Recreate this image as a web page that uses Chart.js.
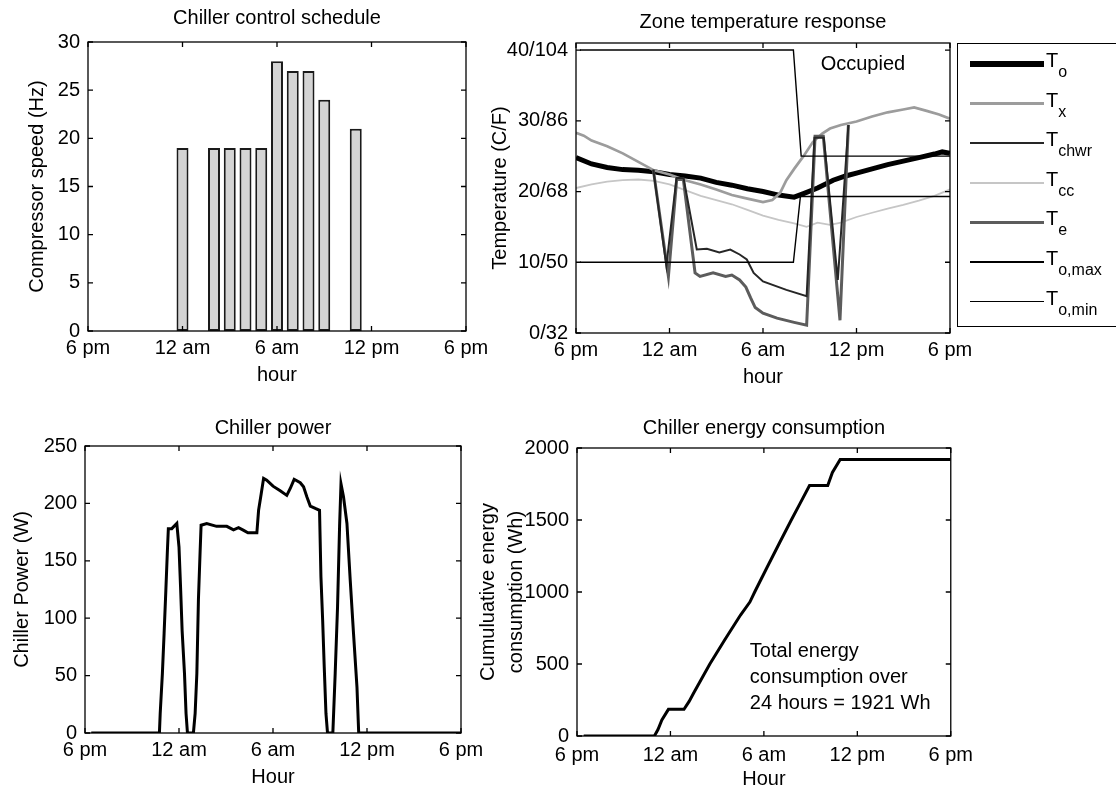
<!DOCTYPE html>
<html>
<head>
<meta charset="utf-8">
<script src="https://cdn.jsdelivr.net/npm/chart.js@4/dist/chart.umd.min.js"></script>
<style>
  html, body { margin: 0; padding: 0; background: #fff; }
  #page { position: relative; width: 1116px; height: 791px; overflow: hidden; background: #fff;
          font-family: "Liberation Sans", Arial, sans-serif; color: #000; }
  .panel { position: absolute; }
  #legend { position: absolute; left: 957px; top: 43px; width: 180px; height: 284px;
            border: 1.5px solid #000; box-sizing: border-box; }
  .swatch { position: absolute; left: 970px; width: 74px; }
  .lab { position: absolute; left: 1046px; font-size: 20px; line-height: 20px; white-space: nowrap; }
  .lab sub { font-size: 16px; vertical-align: -10px; line-height: 0; }
</style>
</head>
<body>
<div id="page">
  <div class="panel" style="left:0;top:0;width:500px;height:395px"><canvas id="schedule"></canvas></div>
  <div class="panel" style="left:480px;top:0;width:500px;height:395px"><canvas id="zone"></canvas></div>
  <div class="panel" style="left:0;top:395px;width:500px;height:396px"><canvas id="power"></canvas></div>
  <div class="panel" style="left:470px;top:395px;width:510px;height:396px"><canvas id="energy"></canvas></div>
  <div id="legend"></div>
</div>
<script>
const hourTicks = ['6 pm', '12 am', '6 am', '12 pm', '6 pm'];

// chiller control schedule (hours after 6 pm)
const barHours = [6, 8, 9, 10, 11, 12, 13, 14, 15, 17];
const barSpeeds = [19, 19, 19, 19, 19, 28, 27, 27, 24, 21];

// zone temperature response
const tempTicks = ['0/32', '10/50', '20/68', '30/86', '40/104'];
const toHours = [0, 1, 2, 3, 4, 5, 6, 7, 8, 9, 10, 11, 12, 13, 14, 14.6, 15.5, 16.5, 17.3, 18, 19, 20, 21, 22, 23, 23.5, 24];
const toVals = [24.8, 23.9, 23.4, 23.1, 23.0, 22.8, 22.4, 22.2, 21.9, 21.3, 20.9, 20.4, 20.0, 19.5, 19.2, 19.7, 20.5, 21.6, 22.2, 22.6, 23.2, 23.8, 24.3, 24.8, 25.3, 25.6, 25.4];
const txHours = [0, 0.5, 1, 2, 3, 4, 5, 6, 7, 8, 9, 10, 11, 12, 12.6, 13.1, 13.5, 14.0, 14.6, 15.2, 15.8, 16.3, 17, 18, 19, 20, 21, 21.7, 22.5, 23.3, 24];
const txVals = [28.3, 27.9, 27.2, 26.4, 25.4, 24.2, 23.0, 22.4, 21.6, 21.0, 20.3, 19.5, 19.0, 18.5, 18.8, 19.8, 21.6, 23.2, 25.0, 27.0, 28.2, 28.9, 29.4, 29.9, 30.6, 31.2, 31.6, 31.9, 31.4, 30.9, 30.3];
const tchwrHours = [4.96, 5.8, 6.45, 6.9, 7.75, 8.4, 9.2, 9.9, 10.5, 10.96, 11.4, 12.0, 13.5, 14.8, 15.3, 15.9, 16.8, 17.48];
const tchwrVals = [23.1, 9.5, 21.9, 21.9, 11.8, 11.9, 11.4, 11.8, 11.1, 10.4, 8.5, 7.3, 6.1, 5.2, 27.6, 27.6, 7.5, 29.4];
const tccHours = [0, 1, 2, 3, 4, 5, 6, 7, 8, 9, 10, 11, 12, 13, 14, 14.8, 15.5, 16.3, 17, 18, 19, 20, 21, 22, 23, 24];
const tccVals = [20.5, 21.0, 21.4, 21.6, 21.7, 21.5, 21.0, 20.2, 19.4, 18.8, 18.2, 17.4, 16.6, 16.0, 15.5, 15.0, 15.6, 15.3, 15.6, 16.4, 17.0, 17.6, 18.1, 18.7, 19.4, 20.3];
const teHours = [4.96, 5.93, 6.46, 6.89, 7.64, 7.96, 8.8, 9.6, 10.0, 10.5, 10.9, 11.2, 11.5, 12.0, 12.9, 14.0, 14.8, 15.34, 15.87, 16.94, 17.48];
const teVals = [23.1, 8.0, 21.7, 21.7, 8.5, 8.0, 8.5, 8.0, 8.2, 7.5, 6.5, 5.0, 3.6, 2.8, 2.1, 1.5, 1.1, 27.8, 27.8, 1.8, 29.4];
const toMaxHours = [0.25, 13.95, 14.45, 24];
const toMaxVals = [40, 40, 25, 25];
const toMinHours = [0.25, 13.95, 14.4, 24];
const toMinVals = [10, 10, 19.3, 19.3];

// chiller power (W)
const powerHours = [0.4, 4.75, 4.8, 4.94, 5.05, 5.16, 5.26, 5.32, 5.54, 5.86, 6.0, 6.1, 6.2, 6.35, 6.45, 6.54, 6.92, 7.03, 7.14, 7.24, 7.35, 7.41, 7.77, 8.4, 9.05, 9.48, 9.8, 10.1, 10.4, 10.97, 11.08, 11.25, 11.4, 11.6, 12.0, 12.46, 12.88, 13.1, 13.35, 13.74, 13.95, 14.16, 14.38, 14.7, 14.97, 15.06, 15.17, 15.27, 15.38, 15.48, 15.82, 15.97, 16.12, 16.25, 16.34, 16.5, 16.72, 16.93, 17.14, 17.36, 17.47, 24];
const powerVals = [0, 0, 17, 52, 87, 124, 159, 178, 178, 182.5, 162, 127, 89, 52, 17, 0, 0, 17, 52, 116, 159, 181, 182.5, 180, 180, 177, 178.8, 176.7, 174.4, 174.4, 194, 208.7, 221.8, 220.3, 215, 211, 207, 213, 221, 218, 214.5, 205.8, 197.7, 195.6, 194, 136, 98, 57.6, 17, 0, 0, 52, 110, 180, 217, 205.8, 182.5, 133, 86.6, 40, 0, 0];

// cumulative energy (Wh)
const energyHours = [0.43, 4.97, 5.2, 5.45, 5.87, 6.87, 7.2, 7.5, 8.53, 9.5, 10.5, 11.1, 11.41, 12.2, 13.0, 13.76, 14.3, 14.93, 16.1, 16.4, 16.9, 24];
const energyVals = [0, 0, 45, 111, 185, 185, 240, 300, 500, 670, 840, 930, 1000, 1170, 1340, 1500, 1610, 1740, 1740, 1830, 1921, 1921];

const pts = (xs, ys) => xs.map((x, i) => ({ x: x, y: ys[i] }));

Chart.defaults.font.family = '"Liberation Sans", Arial, sans-serif';
Chart.defaults.font.size = 20;
Chart.defaults.color = '#000';

// matlab style box with inward ticks, plus text notes
const boxPlugin = {
  id: 'matlabBox',
  afterDatasetsDraw(chart, args, opts) {
    const { ctx, chartArea: a, scales } = chart;
    ctx.save();
    ctx.strokeStyle = '#000';
    ctx.lineWidth = 1.3;
    ctx.strokeRect(a.left, a.top, a.right - a.left, a.bottom - a.top);
    ctx.beginPath();
    scales.x.ticks.forEach(t => {
      const p = scales.x.getPixelForValue(t.value);
      ctx.moveTo(p, a.bottom); ctx.lineTo(p, a.bottom - 5);
      ctx.moveTo(p, a.top); ctx.lineTo(p, a.top + 5);
    });
    scales.y.ticks.forEach(t => {
      const p = scales.y.getPixelForValue(t.value);
      ctx.moveTo(a.left, p); ctx.lineTo(a.left + 5, p);
      ctx.moveTo(a.right, p); ctx.lineTo(a.right - 5, p);
    });
    ctx.stroke();
    ctx.fillStyle = '#000';
    ctx.font = '20px "Liberation Sans", Arial, sans-serif';
    ctx.textBaseline = 'middle';
    ctx.textAlign = 'left';
    (opts.notes || []).forEach(n => {
      const x = scales.x.getPixelForValue(n.x);
      const y = scales.y.getPixelForValue(n.y);
      n.lines.forEach((s, i) => ctx.fillText(s, x, y + i * 26));
    });
    ctx.restore();
  }
};

function makeChart(id, type, datasets, o) {
  return new Chart(document.getElementById(id), {
    type: type,
    data: { datasets: datasets },
    options: {
      responsive: true,
      maintainAspectRatio: false,
      animation: false,
      events: [],
      layout: { padding: o.pad },
      plugins: {
        legend: { display: false },
        tooltip: { enabled: false },
        title: { display: true, text: o.title, fullSize: false, font: { size: 20, weight: 'normal' }, padding: o.titlePad },
        matlabBox: { notes: o.notes || [] }
      },
      scales: {
        x: {
          type: 'linear', min: 0, max: 24, offset: false,
          grid: { display: false, drawTicks: false }, border: { display: false },
          ticks: { stepSize: 6, padding: o.xTickPad, maxRotation: 0, autoSkip: false, callback: v => hourTicks[v / 6] },
          title: { display: true, text: o.xTitle, padding: { top: 0, bottom: o.xTitlePad } },
          afterFit: s => { s.height = o.xH; }
        },
        y: {
          type: 'linear', min: 0, max: o.yMax,
          grid: { display: false, drawTicks: false }, border: { display: false },
          ticks: { stepSize: o.yStep, padding: 8, includeBounds: false,
                   callback: o.yLabels ? (v => o.yLabels[v / o.yStep]) : (v => v) },
          title: { display: true, text: o.yTitle, padding: { top: o.yTitlePad, bottom: 0 },
                   font: { size: 20, lineHeight: 1.4 } },
          afterFit: s => { s.width = o.yW; }
        }
      }
    },
    plugins: [boxPlugin]
  });
}

makeChart('schedule', 'bar', [{
  data: pts(barHours, barSpeeds),
  backgroundColor: '#d4d4d4', borderColor: '#1a1a1a', borderWidth: 2, borderSkipped: false,
  barPercentage: 0.95, categoryPercentage: 0.8
}], {
  title: 'Chiller control schedule', titlePad: { top: 6, bottom: 12 },
  pad: { left: 0, right: 34, top: 0, bottom: 0 },
  xTitle: 'hour', xH: 64, xTickPad: 5, xTitlePad: 8,
  yTitle: 'Compressor speed (Hz)', yW: 88, yTitlePad: 23, yMax: 30, yStep: 5
});

const line = (label, xs, ys, color, width, order) => ({
  label: label, data: pts(xs, ys), borderColor: color, backgroundColor: color,
  borderWidth: width, pointRadius: 0, tension: 0, fill: false, order: order
});

const zone = makeChart('zone', 'line', [
  line('T_o', toHours, toVals, '#000000', 5, 10),
  line('T_x', txHours, txVals, '#9c9c9c', 2.7, 8),
  line('T_chwr', tchwrHours, tchwrVals, '#262626', 2, 4),
  line('T_cc', tccHours, tccVals, '#c6c6c6', 1.8, 7),
  line('T_e', teHours, teVals, '#5c5c5c', 3, 6),
  line('T_o,max', toMaxHours, toMaxVals, '#000000', 1.4, 2),
  line('T_o,min', toMinHours, toMinVals, '#000000', 1.4, 2)
], {
  title: 'Zone temperature response', titlePad: { top: 10, bottom: 9 },
  pad: { left: 0, right: 30, top: 0, bottom: 0 },
  xTitle: 'hour', xH: 62, xTickPad: 5, xTitlePad: 6,
  yTitle: 'Temperature (C/F)', yW: 96, yTitlePad: 6, yMax: 41, yStep: 10, yLabels: tempTicks,
  notes: [{ x: 15.7, y: 37.9, lines: ['Occupied'] }]
});

makeChart('power', 'line', [line('Chiller power', powerHours, powerVals, '#000000', 3, 1)], {
  title: 'Chiller power', titlePad: { top: 21, bottom: 6 },
  pad: { left: 0, right: 39, top: 0, bottom: 0 },
  xTitle: 'Hour', xH: 58, xTickPad: 5, xTitlePad: 2,
  yTitle: 'Chiller Power (W)', yW: 85, yTitlePad: 8, yMax: 250, yStep: 50
});

makeChart('energy', 'line', [line('Energy', energyHours, energyVals, '#000000', 3, 1)], {
  title: 'Chiller energy consumption', titlePad: { top: 21, bottom: 8 },
  pad: { left: 0, right: 28, top: 0, bottom: 0 },
  xTitle: 'Hour', xH: 55, xTickPad: 7, xTitlePad: 0,
  yTitle: ['Cumuluative energy', 'consumption (Wh)'], yW: 107, yTitlePad: 4, yMax: 2000, yStep: 500,
  notes: [{ x: 11.1, y: 590, lines: ['Total energy', 'consumption over', '24 hours = 1921 Wh'] }]
});

// legend with subscripts, built from the zone chart datasets
const page = document.getElementById('page');
zone.data.datasets.forEach((ds, i) => {
  const y = 64 + i * 39.6;
  const parts = ds.label.split('_');
  const sw = document.createElement('div');
  sw.className = 'swatch';
  const h = Math.max(ds.borderWidth, 1.5) + (i === 0 ? 1 : 0);
  sw.style.top = (y - h / 2) + 'px';
  sw.style.height = h + 'px';
  sw.style.background = ds.borderColor;
  page.appendChild(sw);
  const lab = document.createElement('div');
  lab.className = 'lab';
  lab.style.top = (y - 14) + 'px';
  lab.innerHTML = parts[0] + '<sub>' + parts[1] + '</sub>';
  page.appendChild(lab);
});
</script>
</body>
</html>
